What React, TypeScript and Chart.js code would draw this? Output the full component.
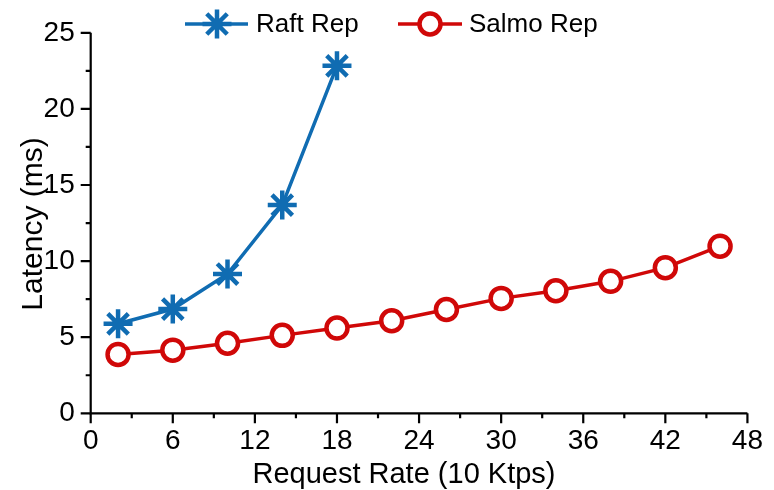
import React, { useEffect, useRef } from 'react';
import { Chart, registerables } from 'chart.js';

Chart.register(...registerables);

const raftX = [2, 6, 10, 14, 18];
const raftY = [5.88, 6.85, 9.15, 13.68, 22.83];
const salmoX = [2, 6, 10, 14, 18, 22, 26, 30, 34, 38, 42, 46];
const salmoY = [3.87, 4.15, 4.6, 5.12, 5.6, 6.08, 6.82, 7.55, 8.05, 8.67, 9.57, 10.98];
const seriesNames = ['Raft Rep', 'Salmo Rep'];
const xTitle = 'Request Rate (10 Ktps)';
const yTitle = 'Latency (ms)';
const xMin = 0, xMax = 48, xStep = 6;
const yMin = 0, yMax = 25, yStep = 5;

const BLUE = 'rgb(16,108,178)';
const RED = 'rgb(208,8,8)';
const FONT = '"Liberation Sans", Arial, Helvetica, sans-serif';

function drawStar(ctx: CanvasRenderingContext2D, x: number, y: number, r: number, color: string, lw: number) {
  ctx.save();
  ctx.strokeStyle = color;
  ctx.lineWidth = lw;
  ctx.beginPath();
  for (let k = 0; k < 4; k++) {
    const a = (k * Math.PI) / 4;
    ctx.moveTo(x - Math.cos(a) * r, y - Math.sin(a) * r);
    ctx.lineTo(x + Math.cos(a) * r, y + Math.sin(a) * r);
  }
  ctx.stroke();
  ctx.restore();
}

const decorPlugin = {
  id: 'decor',
  beforeDatasetsDraw(chart: any) {
    const ctx: CanvasRenderingContext2D = chart.ctx;
    const xs = chart.scales.x;
    const ys = chart.scales.y;
    const left = xs.getPixelForValue(xMin);
    const right = xs.getPixelForValue(xMax);
    const bottom = ys.getPixelForValue(yMin);
    const top = ys.getPixelForValue(yMax);
    ctx.save();
    ctx.strokeStyle = '#000';
    ctx.lineWidth = 2.2;
    ctx.beginPath();
    ctx.moveTo(left, top);
    ctx.lineTo(left, bottom);
    ctx.lineTo(right, bottom);
    ctx.stroke();
    ctx.beginPath();
    for (let v = xMin; v <= xMax + 1e-9; v += xStep / 2) {
      const major = Math.abs(v / xStep - Math.round(v / xStep)) < 1e-6;
      const p = xs.getPixelForValue(v);
      ctx.moveTo(p, bottom);
      ctx.lineTo(p, bottom + (major ? 10 : 5));
    }
    for (let v = yMin; v <= yMax + 1e-9; v += yStep / 2) {
      const major = Math.abs(v / yStep - Math.round(v / yStep)) < 1e-6;
      const p = ys.getPixelForValue(v);
      ctx.moveTo(left, p);
      ctx.lineTo(left - (major ? 10 : 5), p);
    }
    ctx.stroke();
    ctx.fillStyle = '#000';
    ctx.font = `29px ${FONT}`;
    ctx.textAlign = 'center';
    ctx.textBaseline = 'alphabetic';
    ctx.fillText(xTitle, 404, 483);
    ctx.save();
    ctx.translate(42, 224);
    ctx.rotate(-Math.PI / 2);
    ctx.font = `30px ${FONT}`;
    ctx.fillText(yTitle, 0, 0);
    ctx.restore();
    ctx.restore();
  },
  afterDraw(chart: any) {
    const ctx: CanvasRenderingContext2D = chart.ctx;
    const ly = 24;
    ctx.save();
    ctx.strokeStyle = BLUE;
    ctx.lineWidth = 3.5;
    ctx.beginPath();
    ctx.moveTo(185, ly);
    ctx.lineTo(248, ly);
    ctx.stroke();
    drawStar(ctx, 217, ly, 14.5, BLUE, 4.5);
    ctx.strokeStyle = RED;
    ctx.lineWidth = 3.5;
    ctx.beginPath();
    ctx.moveTo(398, ly);
    ctx.lineTo(462, ly);
    ctx.stroke();
    ctx.beginPath();
    ctx.arc(430, ly, 10.5, 0, Math.PI * 2);
    ctx.fillStyle = '#fff';
    ctx.fill();
    ctx.lineWidth = 4.5;
    ctx.stroke();
    ctx.fillStyle = '#000';
    ctx.font = `26px ${FONT}`;
    ctx.textAlign = 'left';
    ctx.textBaseline = 'middle';
    ctx.fillText(seriesNames[0], 256, ly + 1);
    ctx.fillText(seriesNames[1], 469, ly + 1);
    ctx.restore();
  },
};

export default function App() {
  const ref = useRef<HTMLCanvasElement | null>(null);
  useEffect(() => {
    if (!ref.current) return;
    const chart = new Chart(ref.current, {
      type: 'line',
      data: {
        datasets: [
          {
            label: seriesNames[0],
            data: raftX.map((x, i) => ({ x, y: raftY[i] })),
            borderColor: BLUE,
            backgroundColor: BLUE,
            borderWidth: 3.5,
            pointStyle: 'star',
            pointRadius: 14.5,
            pointBorderWidth: 4.5,
            pointBorderColor: BLUE,
            tension: 0,
          },
          {
            label: seriesNames[1],
            data: salmoX.map((x, i) => ({ x, y: salmoY[i] })),
            borderColor: RED,
            backgroundColor: '#fff',
            borderWidth: 3.5,
            pointStyle: 'circle',
            pointRadius: 10.5,
            pointBorderWidth: 4.5,
            pointBorderColor: RED,
            pointBackgroundColor: '#fff',
            tension: 0,
          },
        ],
      },
      options: {
        animation: false,
        responsive: false,
        maintainAspectRatio: false,
        layout: { padding: { top: 30, right: 23, left: 0, bottom: 0 } },
        plugins: { legend: { display: false }, tooltip: { enabled: false } },
        scales: {
          x: {
            type: 'linear',
            min: xMin,
            max: xMax,
            grid: { display: true, drawOnChartArea: false, drawTicks: false },
            border: { display: false },
            ticks: {
              stepSize: xStep,
              autoSkip: false,
              maxRotation: 0,
              padding: 11,
              color: '#000',
              font: { family: FONT, size: 28 },
            },
            afterFit: (s: any) => { s.height = 76.7; },
          },
          y: {
            type: 'linear',
            min: yMin,
            max: yMax,
            grid: { display: true, drawOnChartArea: false, drawTicks: false },
            border: { display: false },
            ticks: {
              stepSize: yStep,
              padding: 16,
              color: '#000',
              font: { family: FONT, size: 28 },
            },
            afterFit: (s: any) => { s.width = 90.7; },
          },
        },
      },
      plugins: [decorPlugin],
    });
    return () => chart.destroy();
  }, []);
  return (
    <div style={{ position: 'absolute', left: 0, top: 0, width: 774, height: 490, background: '#fff' }}>
      <canvas ref={ref} width={774} height={490} style={{ display: 'block' }} />
    </div>
  );
}
